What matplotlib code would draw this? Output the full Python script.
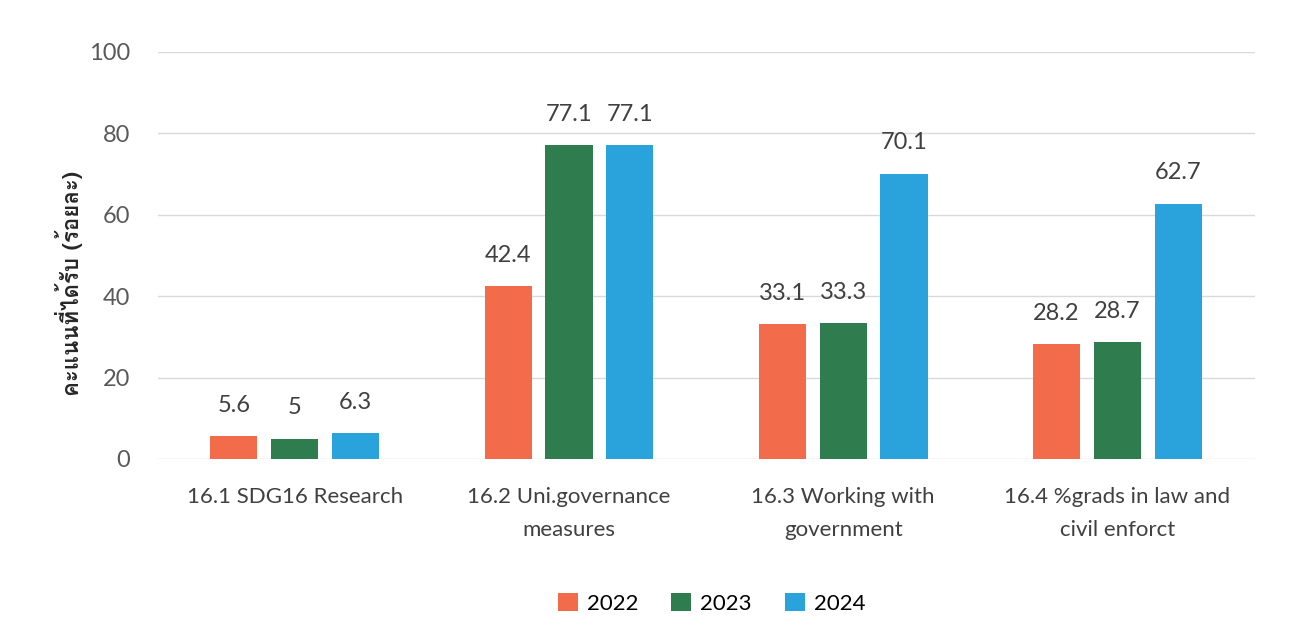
import matplotlib
matplotlib.use("Agg")
import matplotlib.pyplot as plt
from matplotlib import font_manager
import numpy as np

categories = ["16.1 SDG16 Research", "16.2 Uni.governance\nmeasures",
              "16.3 Working with\ngovernment", "16.4 %grads in law and\ncivil enforct"]
years = ["2022", "2023", "2024"]
v2022 = [5.6, 42.4, 33.1, 28.2]
v2023 = [5, 77.1, 33.3, 28.7]
v2024 = [6.3, 77.1, 70.1, 62.7]
yticks = [0, 20, 40, 60, 80, 100]
ylabel = "คะแนนที่ได้รับ (ร้อยละ)"

colors = ["#F26B4B", "#2F7D4F", "#2AA3DC"]

# find a font with Thai coverage
thai_fams = []
for f in font_manager.fontManager.ttflist:
    n = f.name
    if "Thai" in n or n in ("Loma", "Garuda", "Sarabun", "Tlwg Typo", "Kinnari", "Norasi", "Waree", "Umpush"):
        if n not in thai_fams:
            thai_fams.append(n)
base = "Lato"
plt.rcParams["font.family"] = thai_fams + [base, "DejaVu Sans"]
lat = [base, "DejaVu Sans"]

fig = plt.figure(figsize=(12.92, 6.41), dpi=100)
ax = fig.add_axes([0.122, 0.284, 0.849, 0.635])

x = np.arange(len(categories))
w = 0.172
off = 0.222
series = [v2022, v2023, v2024]
for i, (vals, c, yr) in enumerate(zip(series, colors, years)):
    bars = ax.bar(x + (i - 1) * off, vals, width=w, color=c, label=yr, zorder=3)
    for b, v in zip(bars, vals):
        ax.text(b.get_x() + b.get_width() / 2, v + 5, f"{v:g}", ha="center", va="bottom",
                fontsize=17, color="#404040", family=lat)

ax.set_xlim(-0.5, len(categories) - 0.5)
ax.set_ylim(0, 100)
ax.set_yticks(yticks)
ax.set_yticklabels([str(t) for t in yticks], fontsize=17, color="#595959", family=lat)
ax.set_xticks(x)
ax.set_xticklabels(categories, fontsize=16, color="#404040", va="top", linespacing=1.8,
                   family=lat)
ax.tick_params(axis="both", length=0)
ax.tick_params(axis="x", pad=20)
ax.tick_params(axis="y", pad=20)
ax.grid(axis="y", color="#D9D9D9", linewidth=1, zorder=0)
for s in ax.spines.values():
    s.set_visible(False)
ax.set_ylabel(ylabel, fontsize=16, fontweight="bold", color="#262626")
ax.yaxis.set_label_coords(-0.068, 0.43)

ax.legend(loc="center", bbox_to_anchor=(0.505, -0.355), ncol=3, frameon=False,
          handlelength=0.9, handleheight=0.9, columnspacing=1.5, handletextpad=0.4,
          prop={"family": lat, "size": 16})

fig.savefig("out.png", dpi=100, facecolor="white")
